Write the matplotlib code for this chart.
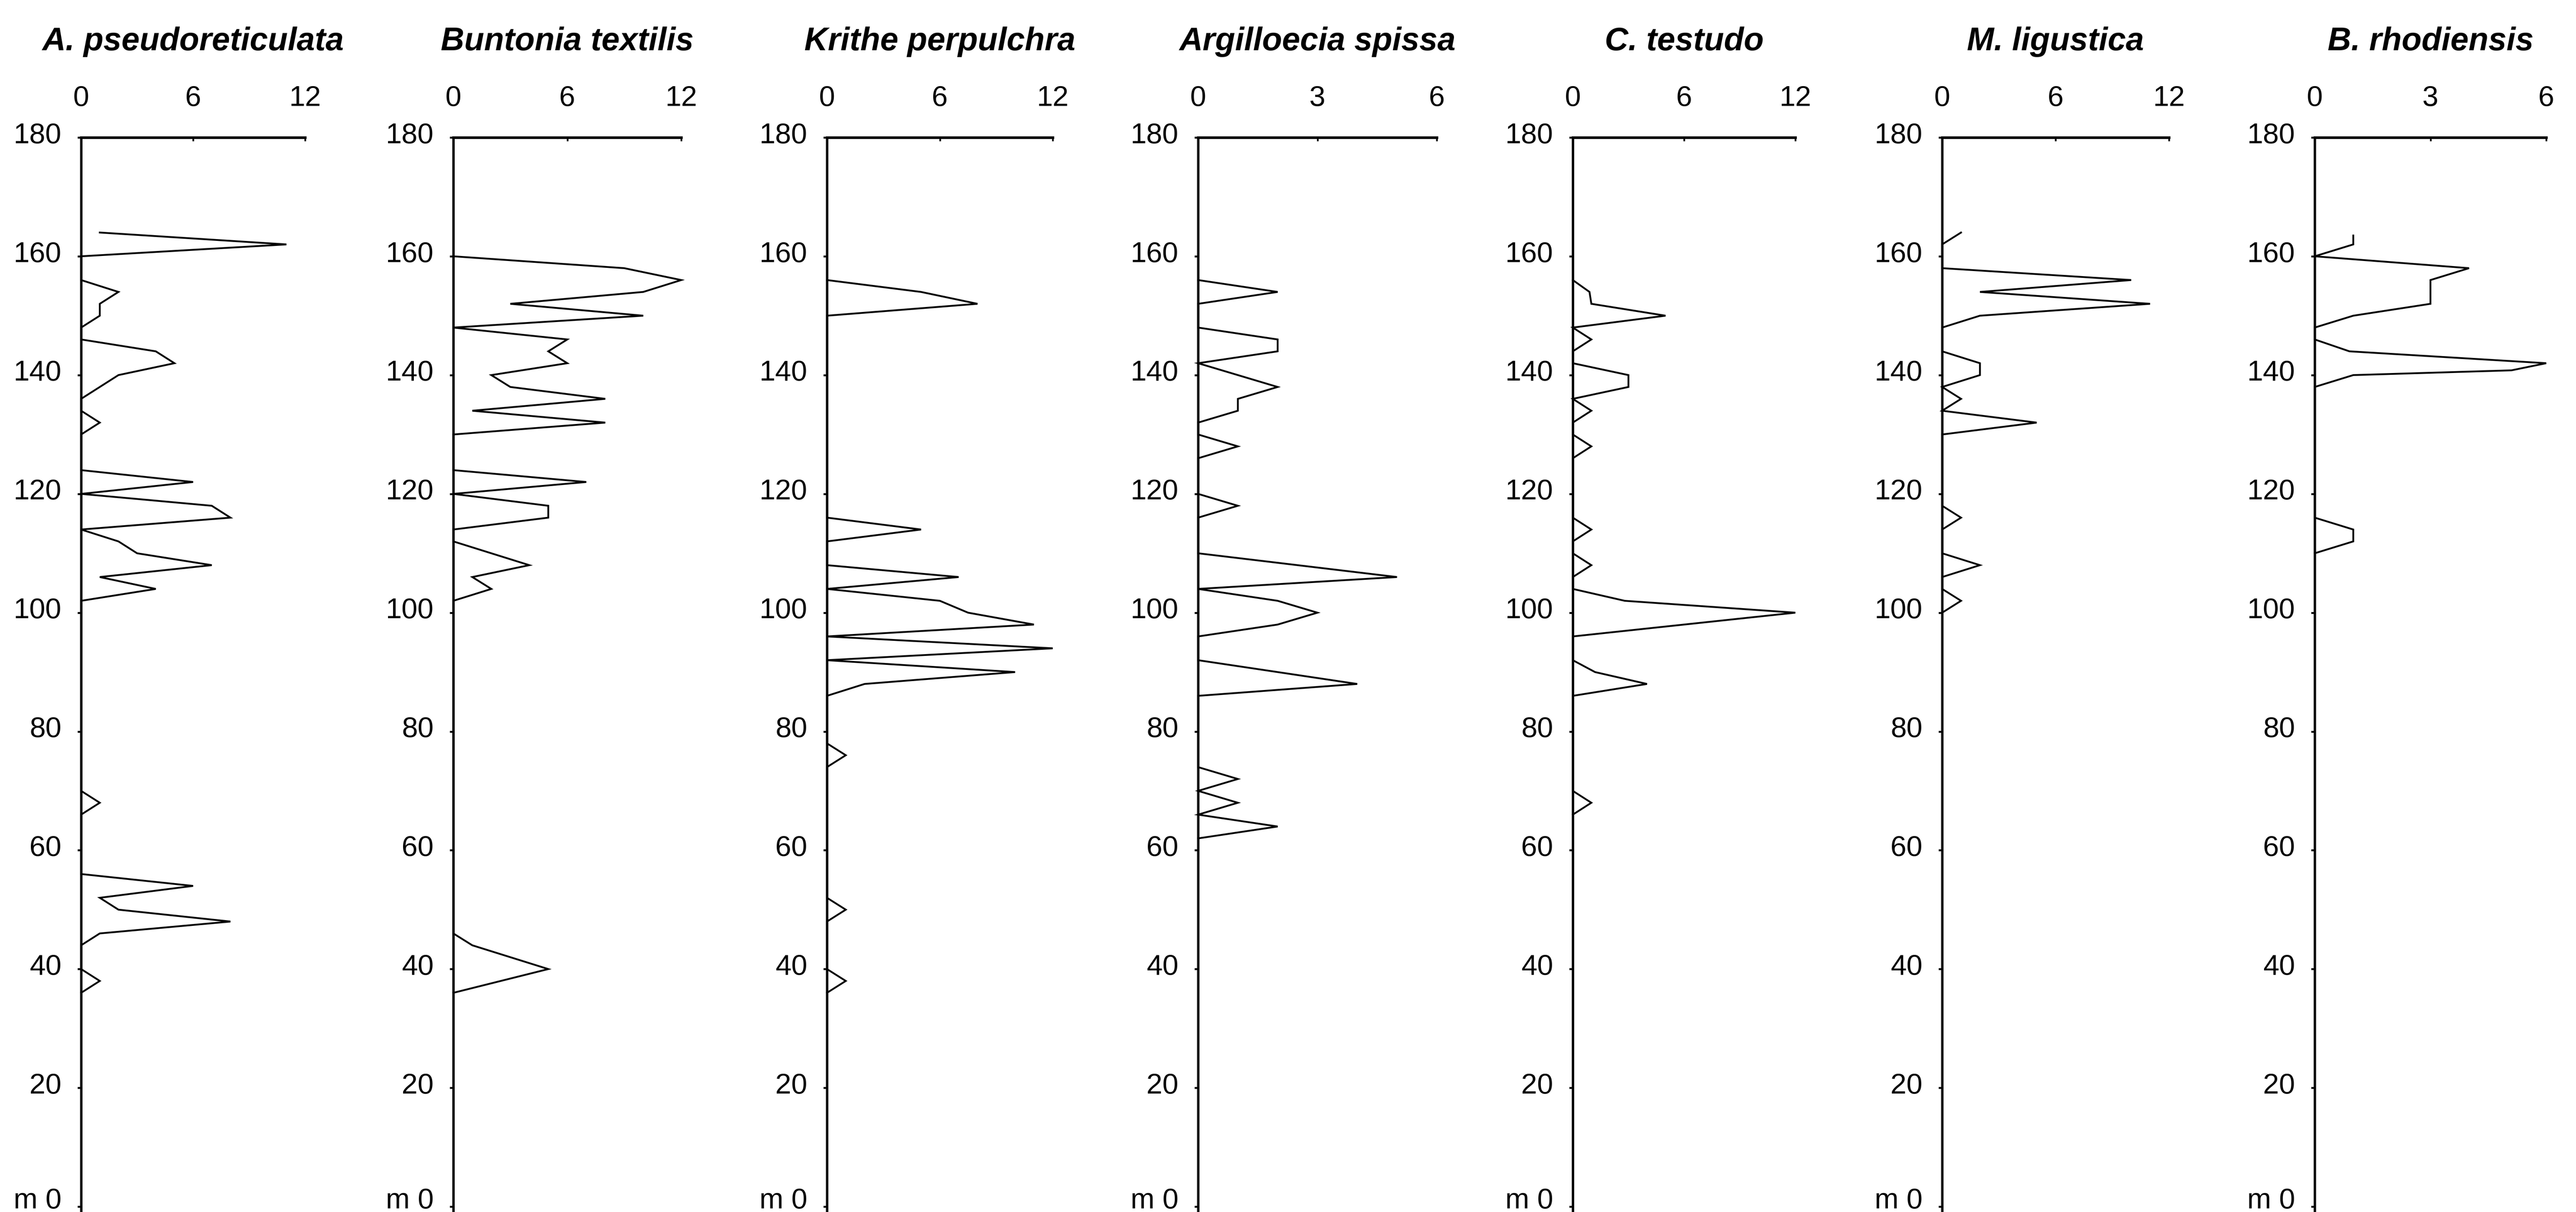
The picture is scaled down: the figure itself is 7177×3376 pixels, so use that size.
import matplotlib
matplotlib.use("Agg")
import matplotlib.pyplot as plt
import matplotlib.transforms as mtransforms

plt.rcParams['font.family'] = ['Liberation Sans', 'DejaVu Sans']

# ---- data -------------------------------------------------------------
species = ["A. pseudoreticulata", "Buntonia textilis", "Krithe perpulchra",
           "Argilloecia spissa", "C. testudo", "M. ligustica", "B. rhodiensis"]
x_max = [12, 12, 12, 6, 12, 12, 6]
x_ticks = [[0, 6, 12], [0, 6, 12], [0, 6, 12], [0, 3, 6],
           [0, 6, 12], [0, 6, 12], [0, 3, 6]]

depth_ticks = [0, 20, 40, 60, 80, 100, 120, 140, 160, 180]
depth_labels = ["m 0", "20", "40", "60", "80", "100", "120", "140", "160", "180"]

pseudo_depth = [164, 162, 160, 156, 154, 152, 150, 148, 146, 144, 142, 140, 138, 136,
                134, 132, 130, 124, 122, 120, 118, 116, 114, 112, 110, 108, 106, 104,
                102, 70, 68, 66, 56, 54, 52, 50, 48, 46, 44, 40, 38, 36]
pseudo_value = [1, 11, 0, 0, 2, 1, 1, 0, 0, 4, 5, 2, 1, 0,
                0, 1, 0, 0, 6, 0, 7, 8, 0, 2, 3, 7, 1, 4,
                0, 0, 1, 0, 0, 6, 1, 2, 8, 1, 0, 0, 1, 0]

buntonia_depth = [160, 158, 156, 154, 152, 150, 148, 146, 144, 142, 140, 138, 136, 134,
                  132, 130, 124, 122, 120, 118, 116, 114, 112, 108, 106, 104, 102,
                  46, 44, 40, 36]
buntonia_value = [0, 9, 12, 10, 3, 10, 0, 6, 5, 6, 2, 3, 8, 1,
                  8, 0, 0, 7, 0, 5, 5, 0, 0, 4, 1, 2, 0,
                  0, 1, 5, 0]

krithe_depth = [156, 154, 152, 150, 116, 114, 112, 108, 106, 104, 102, 100, 98, 96,
                94, 92, 90, 88, 86, 78, 76, 74, 52, 50, 48, 40, 38, 36]
krithe_value = [0, 5, 8, 0, 0, 5, 0, 0, 7, 0, 6, 7.5, 11, 0,
                12, 0, 10, 2, 0, 0, 1, 0, 0, 1, 0, 0, 1, 0]

argil_depth = [156, 154, 152, 148, 146, 144, 142, 140, 138, 136, 134, 132, 130, 128,
               126, 120, 118, 116, 110, 106, 104, 102, 100, 98, 96, 92, 88, 86,
               74, 72, 70, 68, 66, 64, 62]
argil_value = [0, 2, 0, 0, 2, 2, 0, 1, 2, 1, 1, 0, 0, 1,
               0, 0, 1, 0, 0, 5, 0, 2, 3, 2, 0, 0, 4, 0,
               0, 1, 0, 1, 0, 2, 0]

testudo_depth = [156, 154, 152, 150, 148, 146, 144, 142, 140, 138, 136, 134, 132, 130,
                 128, 126, 116, 114, 112, 110, 108, 106, 104, 102, 100, 96, 92, 90,
                 88, 86, 70, 68, 66]
testudo_value = [0, 0.9, 1, 5, 0, 1, 0, 0, 3, 3, 0, 1, 0, 0,
                 1, 0, 0, 1, 0, 0, 1, 0, 0, 2.8, 12, 0, 0, 1.2,
                 4, 0, 0, 1, 0]

ligustica_depth = [164, 162, 158, 156, 154, 152, 150, 148, 144, 142, 140, 138, 136, 134,
                   132, 130, 118, 116, 114, 110, 108, 106, 104, 102, 100]
ligustica_value = [1, 0, 0, 10, 2, 11, 2, 0, 0, 2, 2, 0, 1, 0,
                   5, 0, 0, 1, 0, 0, 2, 0, 0, 1, 0]

rhod_depth = [163.5, 162, 160, 158, 156, 152, 150, 148, 146, 144, 142, 140.8, 140, 138,
              116, 114, 112, 110]
rhod_value = [1, 1, 0, 4, 3, 3, 1, 0, 0, 0.9, 6, 5.1, 1, 0,
              0, 1, 1, 0]

depths = [pseudo_depth, buntonia_depth, krithe_depth, argil_depth,
          testudo_depth, ligustica_depth, rhod_depth]
values = [pseudo_value, buntonia_value, krithe_value, argil_value,
          testudo_value, ligustica_value, rhod_value]

# ---- layout (pixels of the 7177 x 3376 output) ------------------------
W, H = 7177, 3376
DPI = 480
panel_left = [226, 1263, 2304, 3338, 4382, 5411, 6449]
panel_right = [850, 1898, 2933, 4003, 5002, 6043, 7094]
axis_top = 383  # y pixel of the 180 m line

fig = plt.figure(figsize=(W / DPI, H / DPI), dpi=DPI)
fig.patch.set_facecolor('white')

lift = mtransforms.ScaledTranslation(0, 2 / 72, fig.dpi_scale_trans)
lift_bottom = mtransforms.ScaledTranslation(0, 3.6 / 72, fig.dpi_scale_trans)

for i in range(len(species)):
    ax = fig.add_axes([panel_left[i] / W, 0,
                       (panel_right[i] - panel_left[i]) / W, (H - axis_top) / H])
    ax.plot(values[i], depths[i], color='black', lw=0.75,
            solid_joinstyle='miter', clip_on=False)

    ax.set_xlim(0, x_max[i])
    ax.set_ylim(-0.9, 180)

    for side in ['right', 'bottom']:
        ax.spines[side].set_visible(False)
    ax.spines['left'].set_linewidth(1.0)
    ax.spines['top'].set_linewidth(1.1)

    ax.xaxis.tick_top()
    ax.set_xticks(x_ticks[i])
    ax.set_xticklabels([str(t) for t in x_ticks[i]])
    ax.tick_params(axis='x', direction='in', length=1.5, width=0.7,
                   pad=10.7, labelsize=12)

    ax.tick_params(axis='y', direction='out', length=1.5, width=0.8,
                   pad=6.7, labelsize=12)
    ax.set_yticks(depth_ticks)
    ax.set_yticklabels(depth_labels)
    for k, t in enumerate(ax.yaxis.get_major_ticks()):
        shift = lift_bottom if depth_ticks[k] == 0 else lift
        t.label1.set_transform(t.label1.get_transform() + shift)

    ax.annotate(species[i], xy=(0.5, 1.0), xycoords='axes fraction',
                xytext=(0, 36.4), textcoords='offset points',
                ha='center', va='baseline', fontsize=13.6,
                fontweight='bold', fontstyle='italic')

fig.savefig("out.png", dpi=DPI, facecolor='white')
